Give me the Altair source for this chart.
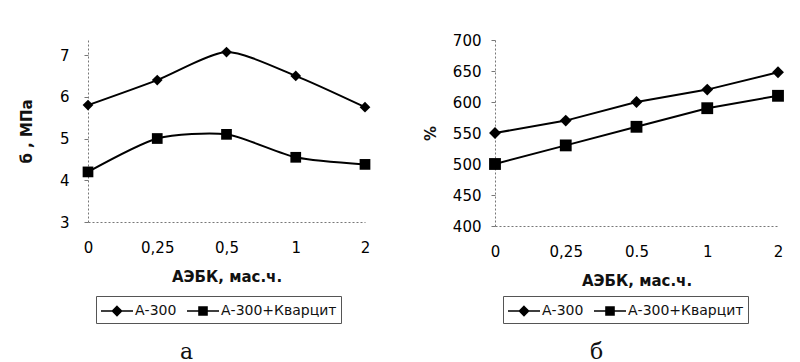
import altair as alt
import pandas as pd

# ---- data ----
series = ["А-300", "А-300+Кварцит"]
x_left = ["0", "0,25", "0,5", "1", "2"]
x_right = ["0", "0,25", "0.5", "1", "2"]
left_a300 = [5.8, 6.4, 7.07, 6.5, 5.75]
left_kvarcit = [4.2, 5.0, 5.1, 4.55, 4.38]
right_a300 = [550, 570, 600, 620, 648]
right_kvarcit = [500, 530, 560, 590, 610]

left_y_ticks = [3, 4, 5, 6, 7]
right_y_ticks = [400, 450, 500, 550, 600, 650, 700]

marker_shapes = ["diamond", "square"]
# legend symbols: a line with a (solid, drawn by nested outlines) marker
legend_shapes = [
    "M-1.6,0H1.6M0,-0.45L0.45,0L0,0.45L-0.45,0Z"
    "M0,-0.3L0.3,0L0,0.3L-0.3,0ZM0,-0.15L0.15,0L0,0.15L-0.15,0Z",
    "M-1.6,0H1.6M-0.4,-0.4H0.4V0.4H-0.4Z"
    "M-0.25,-0.25H0.25V0.25H-0.25ZM-0.1,-0.1H0.1V0.1H-0.1Z",
]

FONT = "DejaVu Sans"


def make_df(xs, a, k):
    rows = []
    for name, vals in zip(series, [a, k]):
        for i, (x, v) in enumerate(zip(xs, vals)):
            rows.append({"x": x, "order": i, "s": name, "v": v})
    return pd.DataFrame(rows)


def panel(df, xs, ydomain, yticks, ytitle, w, h, interp, msize, caption,
          ylabpad, ytitlepad):
    xenc = alt.X(
        "x:N", sort=xs,
        scale=alt.Scale(type="point", padding=0),
        axis=alt.Axis(title="АЭБК, мас.ч.", labelAngle=0, ticks=False,
                      labelPadding=18, titlePadding=14,
                      domainDash=[2, 2], domainColor="#777"),
    )
    yenc = alt.Y(
        "v:Q",
        scale=alt.Scale(domain=ydomain, nice=False, zero=False),
        axis=alt.Axis(values=yticks, grid=False, title=ytitle,
                      tickSize=4, tickColor="#777", labelPadding=ylabpad,
                      titlePadding=ytitlepad,
                      domainDash=[2, 2], domainColor="#777"),
    )
    base = alt.Chart(df).encode(x=xenc, y=yenc)
    lines = base.mark_line(color="black", strokeWidth=2,
                           interpolate=interp, tension=0.3).encode(
        detail="s:N", order="order:Q")
    pts = base.mark_point(filled=True, color="black", opacity=1,
                          size=msize).encode(
        shape=alt.Shape("s:N", scale=alt.Scale(domain=series,
                                               range=marker_shapes),
                        legend=None))
    leg = base.mark_point(filled=False, color="black", opacity=1,
                          strokeWidth=1.6, size=0).encode(
        shape=alt.Shape("s:N", scale=alt.Scale(domain=series,
                                               range=legend_shapes),
                        legend=alt.Legend(
                            title=None, orient="none",
                            legendX=8, legendY=256,
                            direction="horizontal",
                            gridAlign="none",
                            symbolSize=400, symbolStrokeWidth=1.6,
                            symbolStrokeColor="black",
                            symbolOpacity=1,
                            symbolOffset=6, labelOffset=7,
                            columnPadding=6,
                            labelFont=FONT, labelFontSize=14,
                            labelColor="#111",
                            strokeColor="#555", padding=4,
                            fillColor="white")))
    return alt.layer(lines, pts, leg).resolve_scale(
        shape="independent").properties(
        width=w, height=h,
        title=alt.TitleParams(caption, orient="bottom", font="DejaVu Serif",
                              fontSize=22, fontWeight="normal",
                              color="#111", dx=-40, offset=18))


left = panel(make_df(x_left, left_a300, left_kvarcit), x_left,
             [3, 7.36], left_y_ticks, "б , МПа", 277, 182,
             "cardinal", 115, "а", 15, 25)
right = panel(make_df(x_right, right_a300, right_kvarcit), x_right,
              [400, 700], right_y_ticks, "%", 283, 186,
              "linear", 140, "б", 10, 14)

chart = alt.hconcat(left, right, spacing=130, bounds="flush").properties(
    padding={"left": 11, "top": 25, "right": 5, "bottom": 5}
).configure_axis(
    labelFont=FONT, labelFontSize=15, labelColor="#000",
    titleFont=FONT, titleFontSize=15, titleFontWeight="bold",
    titleColor="#111",
).configure_view(stroke=None)

chart.save("out.html", embed_options={"renderer": "svg", "actions": False})
